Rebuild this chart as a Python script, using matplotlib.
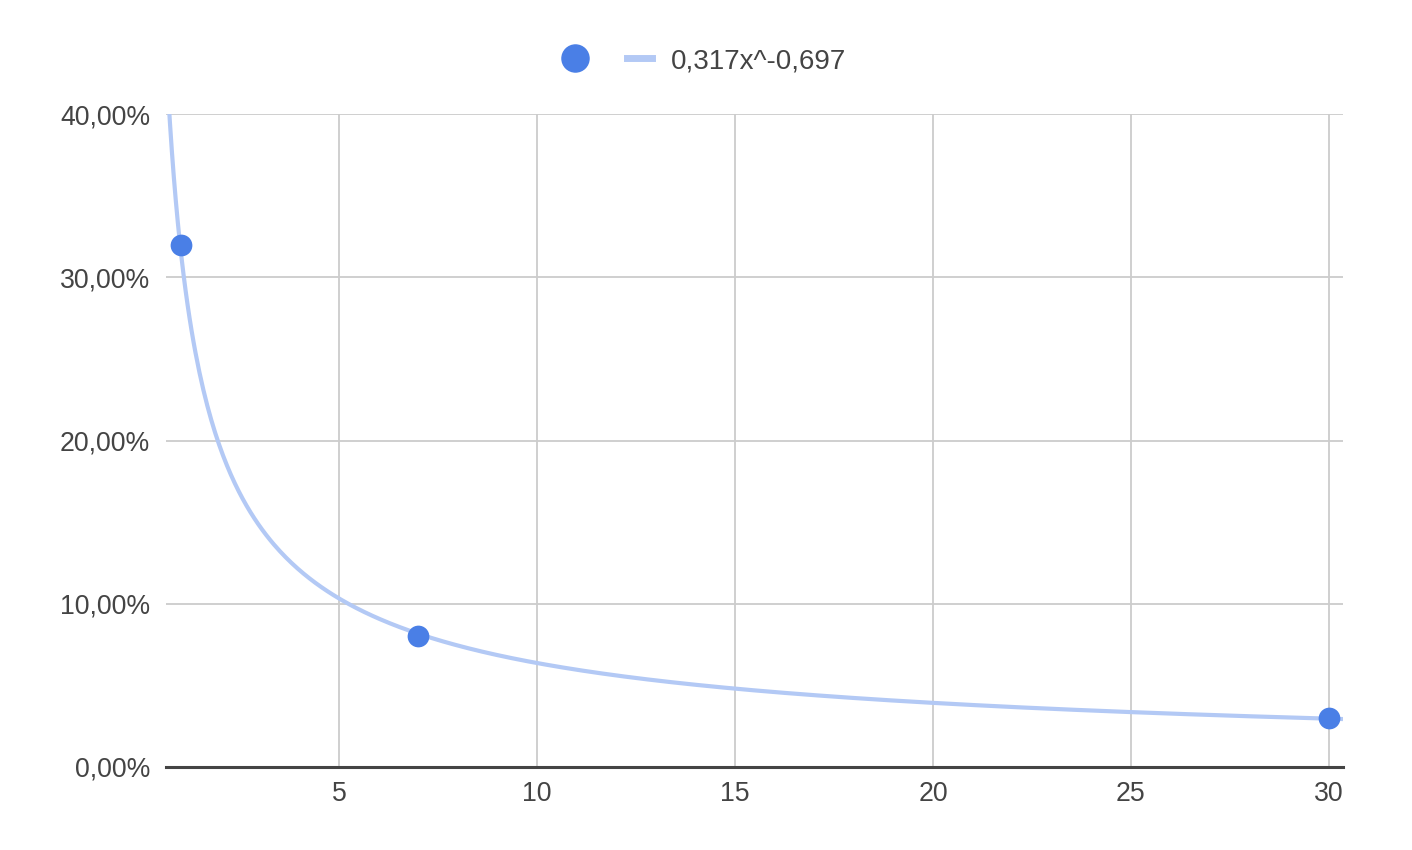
import numpy as np
import matplotlib.pyplot as plt
from matplotlib.ticker import FuncFormatter
from matplotlib.lines import Line2D

plt.rcParams['font.family'] = ['Liberation Sans', 'DejaVu Sans']

# datos
dias = [1, 7, 30]
valores = [0.32, 0.08, 0.03]
coef_a = 0.317
coef_b = -0.697
etiqueta_tendencia = '0,317x^-0,697'
ticks_x = [5, 10, 15, 20, 25, 30]
ticks_y = [0.0, 0.1, 0.2, 0.3, 0.4]

azul = '#4a7fe6'
azul_claro = '#b3c9f5'

fig = plt.figure(figsize=(14.12, 8.5), dpi=100)
ax = fig.add_axes([166 / 1412, 1 - 767 / 850, (1343 - 166) / 1412, (767 - 114) / 850])

xmin, xmax = 0.631, 30.354
xs = np.linspace(xmin, xmax, 600)
ax.plot(xs, coef_a * xs ** coef_b, color=azul_claro, lw=3.0, zorder=2, solid_capstyle='butt')
ax.scatter(dias, valores, s=245, color=azul, zorder=3, linewidths=0)

ax.set_xlim(xmin, xmax)
ax.set_ylim(0, 0.4)
ax.set_xticks(ticks_x)
ax.set_yticks(ticks_y)
ax.yaxis.set_major_formatter(FuncFormatter(lambda v, p: f'{v * 100:.2f}%'.replace('.', ',')))

ax.grid(True, color='#cccccc', lw=1.3)
ax.set_axisbelow(True)
for s in ['top', 'right', 'left']:
    ax.spines[s].set_visible(False)
ax.spines['bottom'].set_color('#444444')
ax.spines['bottom'].set_linewidth(2.2)
ax.spines['bottom'].set_zorder(4)
ax.tick_params(axis='both', length=0, labelsize=19.2, colors='#444444')
ax.tick_params(axis='x', pad=10)
ax.tick_params(axis='y', pad=11.5)

handles = [
    Line2D([], [], marker='o', ls='none', color=azul, markersize=19.5),
    Line2D([], [], color=azul_claro, lw=5),
]
fig.legend(handles, ['', etiqueta_tendencia], loc='center', bbox_to_anchor=(704 / 1412, 1 - 61 / 850),
           ncol=2, frameon=False, fontsize=20, handlelength=0.9, columnspacing=0.74,
           handletextpad=0.68, labelcolor='#444444', borderpad=0, borderaxespad=0)

fig.savefig('out.png', dpi=100)
